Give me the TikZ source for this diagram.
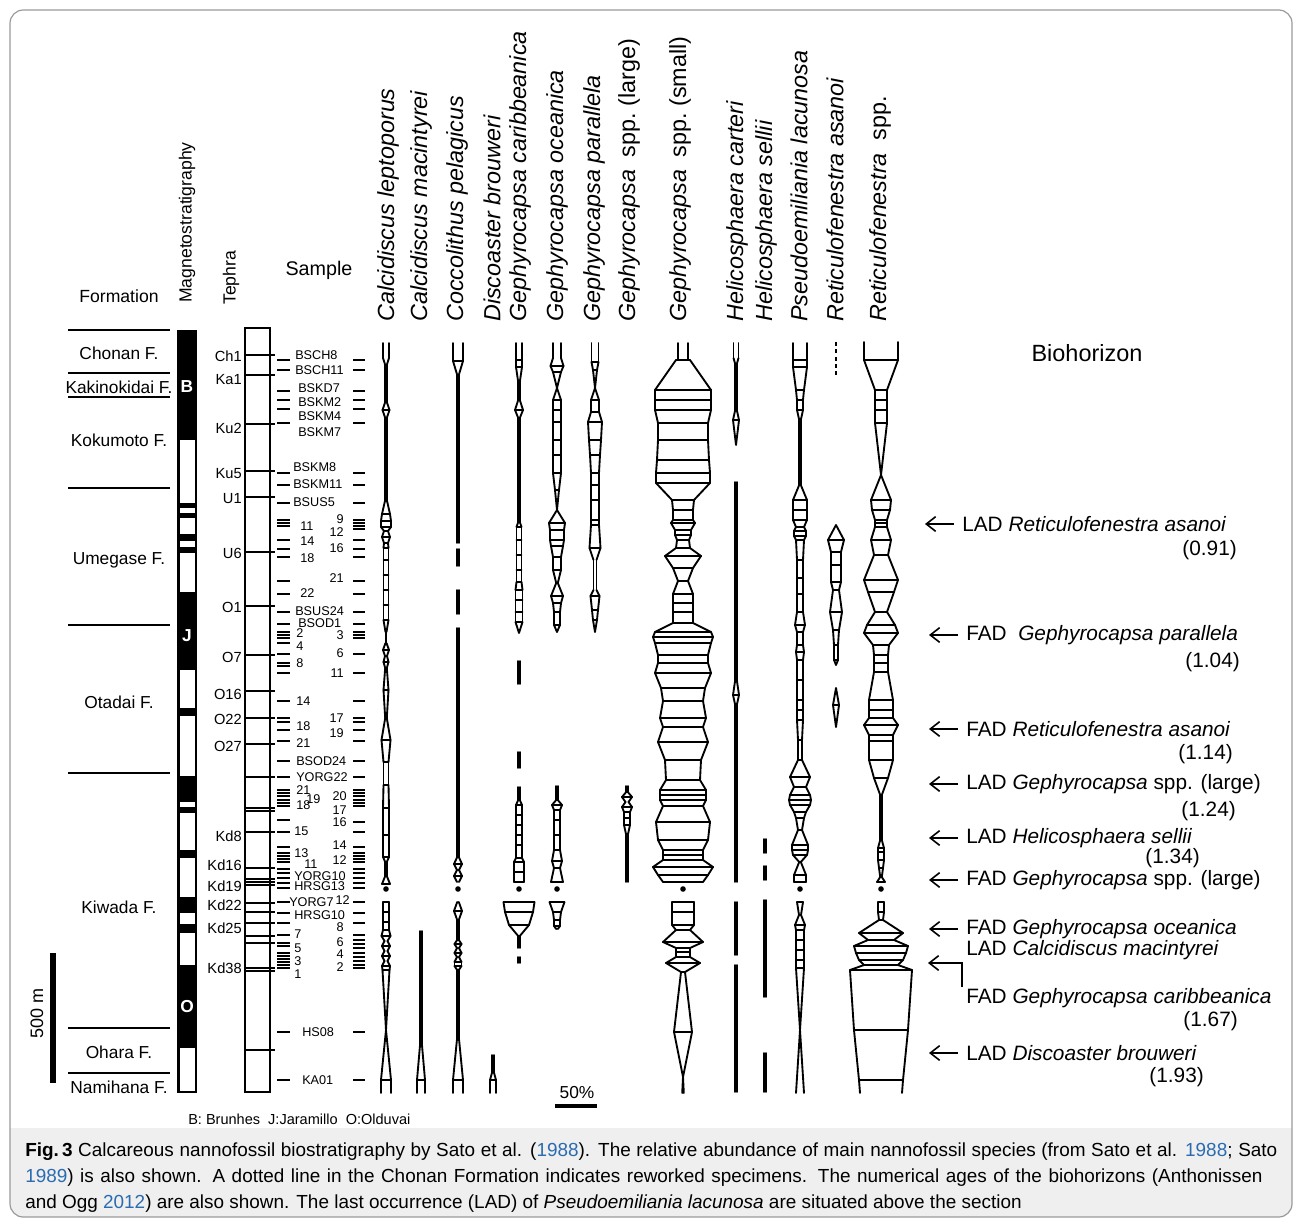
\documentclass[tikz,border=0pt]{standalone}
\usepackage{fontspec}
\setmainfont{Liberation Sans}
\usetikzlibrary{arrows.meta}
\definecolor{linkblue}{HTML}{2B6CB0}
\definecolor{capbg}{HTML}{EFEFEF}
\definecolor{framegray}{HTML}{9A9A9A}
\newcommand\fsz[1]{\fontsize{#1}{#1}\selectfont}
\newcommand\lnk[1]{\textcolor{linkblue}{#1}}
% abundance outline: #1 = column x, #2 = list y/halfwidth (negative = no rung)
\newcommand\ab[2]{%
  \foreach \yy/\ww [remember=\yy as \py (initially 0), remember=\ww as \pw (initially 0)] in {#2}{%
    \pgfmathsetmacro\aw{abs(\ww)}%
    \pgfmathsetmacro\pa{abs(\pw)}%
    \ifdim\py pt>0pt \draw (#1-\pa,\py)--(#1-\aw,\yy) (#1+\pa,\py)--(#1+\aw,\yy);\fi
    \ifdim\ww pt>1.5pt \draw (#1-\aw,\yy)--(#1+\aw,\yy);\fi
  }}
\newcommand\op[4]{\draw (#1-#2,#3)--(#1-#2,#4) (#1+#2,#3)--(#1+#2,#4);}
\begin{document}
\begin{tikzpicture}[x=0.75pt,y=-0.75pt,
  hdr/.style={rotate=90,anchor=west,inner sep=0,font=\fsz{17.5}},
  fm/.style={inner sep=0,font=\fsz{13}},
  teph/.style={inner sep=0,anchor=east,font=\fsz{11}},
  smp/.style={inner sep=0,font=\fsz{9.5}},
  bio/.style={inner sep=0,anchor=west,font=\fsz{15.6}},
  age/.style={inner sep=0,anchor=east,font=\fsz{15.6}},
  arr/.style={line width=1.2pt,-{Straight Barb[length=7pt,width=11pt,line width=1.2pt]}},
  thick2/.style={line width=1.5pt}]
\useasboundingbox (0,0) rectangle (1295,1219);
% frame and caption background
\begin{scope}
\clip[rounded corners=10] (10,10) rectangle (1292,1217);
\fill[capbg] (10,1128) rectangle (1292,1217);
\end{scope}
\draw[framegray,line width=0.9pt,rounded corners=10] (10,10) rectangle (1292,1217);

% ---------- headers ----------
\node[fm,font=\fsz{13.2}] (hform) at (119,296) {Formation};
\node[hdr,font=\fsz{13.2}] (hmag) at (187,303) {Magnetostratigraphy};
\node[hdr,font=\fsz{13.2}] (hteph) at (231,305) {Tephra};
\node[fm,font=\fsz{14.8}] (hsample) at (319,270) {Sample};
\foreach \x/\t [count=\i] in {388/{\textit{Calcidiscus leptoporus}},421/{\textit{Calcidiscus macintyrei}},457/{\textit{Coccolithus pelagicus}},492/{\textit{Discoaster brouweri}},520/{\textit{Gephyrocapsa caribbeanica}},557/{\textit{Gephyrocapsa oceanica}},594/{\textit{Gephyrocapsa parallela}},629/{\textit{Gephyrocapsa}\ \ spp.\ (large)},680/{\textit{Gephyrocapsa}\ \ spp.\ (small)},737/{\textit{Helicosphaera carteri}},766/{\textit{Helicosphaera sellii}},799/{\textit{Pseudoemiliania lacunosa}},835/{\textit{Reticulofenestra asanoi}},880/{\textit{Reticulofenestra}\ \ spp.}}
  \node[hdr] (sp\i) at (\x,322) {\t};

% ---------- formations ----------
\foreach \y in {330,373,397,488,625,773,1028,1073} \draw[thick2] (68,\y)--(170,\y);
\foreach \y/\t [count=\i] in {353/Chonan F.,387/Kakinokidai F.,440/Kokumoto F.,560/Umegase F.,702/Otadai F.,907/Kiwada F.,1052/Ohara F.,1087/Namihana F.}
  \node[fm] (f\i) at (119,\y) {\t};

% ---------- magnetostratigraphy ----------
\fill (177,330) rectangle (197,1093);
\foreach \a/\b in {440/503,508/513,518/534,541/547,553/592,670/708,716/776,802/807,813/850,858/897,913/924,933/965,1048/1091}
  \fill[white] (179.5,\a) rectangle (194.5,\b);
\node[text=white,font=\fsz{13}\bfseries,inner sep=0] (mB) at (187,387) {B};
\node[text=white,font=\fsz{13}\bfseries,inner sep=0] (mJ) at (187,636) {J};
\node[text=white,font=\fsz{13}\bfseries,inner sep=0] (mO) at (187,1007) {O};

% ---------- tephra ----------
\draw[thick2] (245,328) rectangle (270,1092);
\foreach \y in {355,375,424,471,497,552,606,655,691,718,744,777,808,810.5,832,868,879,882,885,903,912,923,936,943,968,970.5,1050}
  \draw[thick2] (245,\y)--(275,\y);
\foreach \y/\t [count=\i] in {356/Ch1,380/Ka1,428/Ku2,474/Ku5,499/U1,553/U6,607/O1,657/O7,694/O16,719/O22,746/O27,836/Kd8,865/Kd16,886/Kd19,905/Kd22,928/Kd25,968/Kd38}
  \node[teph] (t\i) at (242,\y) {\t};

% ---------- samples ----------
\foreach \y in {360,370,391,400,409,423,473,485,503,520,523,526,540,549,557,581,594,612,624,632,635,638,643,654,663,666,673,701,718,722,730,741,761,777,790,793,796,800,803,806,820,832,847,853,856,859,862,869,873,878,883,888,902,913,923,935,943,946,953,956,959,962,965,968,1032,1080}
  \draw[line width=1.3pt] (277,\y)--(290,\y);
\foreach \y in {360,370,391,400,409,423,473,485,503,520,523,526,529,540,549,557,581,594,612,624,632,635,638,654,673,701,718,722,730,741,761,777,790,793,796,800,803,806,822,832,847,853,856,859,862,869,873,878,883,888,902,913,923,935,940,944,948,953,957,961,965,968,1032,1080}
  \draw[line width=1.3pt] (353,\y)--(365,\y);
\foreach \x/\y/\t [count=\i] in {295/355/BSCH8,295/370/BSCH11,298/388/BSKD7,298/402/BSKM2,298/416/BSKM4,298/432/BSKM7,293/467/BSKM8,293/484/BSKM11,293/502/BSUS5,300/526/11,300/541/14,300/558/18,300/593/22,295/611/BSUS24,298/623/BSOD1,296/633/2,296/646/4,296/663/8,296/701/14,296/726/18,296/743/21,296/761/BSOD24,296/777/YORG22,296/790/21,296/805/18,306/799/19,294/831/15,294/853/13,304/864/11,294/876/YORG10,294/886/HRSG13,289/902/YORG7,294/915/HRSG10,294/934/7,294/948/5,294/961/3,294/974/1,302/1032/HS08,302/1080/KA01}
  \node[smp,anchor=west] (sl\i) at (\x,\y) {\t};
\foreach \x/\y/\t [count=\i] in {344/519/9,344/532/12,344/548/16,344/578/21,344/635/3,344/653/6,344/673/11,344/718/17,344/733/19,347/796/20,347/810/17,347/822/16,347/845/14,347/860/12,350/900/12,344/927/8,344/942/6,344/954/4,344/967/2}
  \node[smp,anchor=east] (sr\i) at (\x,\y) {\t};

% ---------- abundance columns ----------
\begin{scope}[line width=1.4pt,line cap=round]
% Calcidiscus leptoporus
\op{386}{3}{343}{358}
\ab{386}{358/-3,365/0.8,402/0.8,410/3.5,418/0.8,500/0.8,514/4,521/5,527/5,531/2,537/4,543/2,548/2.5,560/2.5,575/2.5,590/2.5,605/2.5,620/2.5,632/0.5,643/0.5,650/3,656/1,662/2.5,668/0.8,690/2.5,718/0.8,740/4.5,762/2.5,785/2.5,808/3,835/3,857/3,862/0.8,876/0.8,884/4}
\ab{386}{902/3,912/3,922/3,930/3,936/4.5,941/1.5,946/4,951/1.5,956/4,961/1.5,966/4,970/3.5,1030/0,1080/5,1093/-5}
% Calcidiscus macintyrei
\ab{421}{931/0.8,1043/0.8,1080/4,1093/-4}
% Coccolithus pelagicus
\op{458}{5}{343}{361}
\ab{458}{361/5,375/0.8,543/0.8}
\ab{458}{549/0.8,566/0.8}
\ab{458}{590/0.8,614/0.8}
\ab{458}{628/0.8,857/0.8,864/4,870/1,876/4,882/1}
\ab{458}{902/0.8,911/4,920/0.8,940/0.8,944/3.5,948/1,953/3.5,957/1,962/3.5,966/3.5,970/0.8,1037/0.8,1080/5,1093/-5}
% Discoaster brouweri
\ab{493}{1055/0.8,1072/0.8,1080/3,1093/-3}
% Gephyrocapsa caribbeanica
\op{519}{3}{343}{360}
\ab{519}{360/3,367/3,382/0.8,400/0.8,410/4,418/0.8,522/0.8,527/2.5,540/2.5,555/2.5,570/2.5,582/2.5,590/3.5,600/3.5,612/3.5,622/3.5,633/0}
\ab{519}{661/0.8,684/0.8}
\ab{519}{752/0.8,768/0.8}
\ab{519}{787/0.8,800/0.8,805/3,815/3,825/3,835/3,845/3,858/3,862/5,872/5,882/5}
\ab{519}{902/15.5,912/14,925/10,936/0.8,948/0.8}
\ab{519}{957/0.8,963/0.8}
% Gephyrocapsa oceanica
\op{557}{4}{343}{358}
\ab{557}{358/-4,366/6.5,372/4,388/0,400/4,410/4,422/4,440/4,455/4,473/4,490/2,510/0,523/8,530/7,540/7,546/6,557/4,570/4,583/0.8,596/6,603/4,612/3,625/3,632/0}
\ab{557}{786/0.8,800/0.8,805/5,810/3,820/3,835/3,850/3,861/5,868/3,882/6}
\ab{557}{902/7.5,912/4,920/3,926/3,929/0.8}
% Gephyrocapsa parallela
\op{595}{3.5}{343}{362}
\ab{595}{362/3.5,370/2,388/0,400/4,412/4,422/7,440/6,455/5,473/4,485/4,500/4,520/4,525/4,548/5.5,560/1.5,590/1.5,596/4.5,610/3,620/2,632/0}
% Gephyrocapsa spp. (large)
\ab{627}{786/0.8,792/0.8,797/5,802/1.5,807/5,812/3,818/3,825/3,835/0.8,882/0.8}
% Gephyrocapsa spp. (small)
\op{683}{5}{343}{360}
\ab{683}{360/7,390/28,400/28,410/28,423/25,440/25,460/26,473/27,483/27,500/11,510/10,520/10,523/12,530/8,535/8,540/6,548/7,556/18,568/10,581/5,594/10,603/10,612/10,623/10,632/28,637/30,643/28,655/25,663/25,673/28,688/22,701/20,718/23,727/20,742/25,760/18,780/17,790/23,795/23,800/23,806/20,822/27,840/25,850/20,855/20,860/20,867/30,875/25,882/20}
\ab{683}{902/11,912/11,925/11,930/7,942/20,948/7,952/7,957/7,963/17,972/2,1032/9,1077/0,1093/0.8}
% Helicosphaera carteri
\op{736}{2.5}{343}{358}
\ab{736}{358/-2.5,364/0.8,410/0.8,420/3,445/0}
\ab{736}{482/0.8,680/0.8,695/3,705/0.8,882/0.8}
\ab{736}{902/0.8,955/0.8}
\ab{736}{965/0.8,1092/0.8}
% Helicosphaera sellii
\ab{765}{839/0.8,853/0.8}
\ab{765}{866/0.8,880/0.8}
\ab{765}{900/0.8,997/0.8}
\ab{765}{1053/0.8,1092/0.8}
% Pseudoemiliania lacunosa
\op{800}{7}{343}{360}
\ab{800}{360/7,367/7,390/4,400/3,410/3,420/0.8,485/0.8,500/7,510/7,520/7,527/4,531/6,536/6,540/4,560/3,578/3,594/3,612/3,625/5,632/3,645/3,652/4,660/3,680/3,700/3,710/3,720/3,740/2,760/2,777/10,787/6,795/10,800/11,805/10,812/6,818/4,830/2,845/8,850/8,855/7,862/0.8,875/6,882/6}
\ab{800}{902/3,915/1,925/5,930/4,940/4,950/4,960/4,968/4,1030/0,1093/-4}
% Reticulofenestra asanoi
\draw[line cap=butt,dash pattern=on 3pt off 2.5pt] (836,342)--(836,378);
\ab{836}{525/0,540/8,552/5,565/5,582/5,590/3,612/6,630/3,645/2,660/2,665/0}
\ab{836}{688/0,705/3,727/0}
% Reticulofenestra spp.
\op{881}{17}{342}{360}
\ab{881}{360/17,390/6,400/6,410/6,423/6,475/0,500/10,510/9,520/6,523/6,527/6,540/10,555/7,580/17,592/13,612/6,625/14,633/17,645/8,655/7,663/7,672/7,700/12,710/12,718/12,725/17,735/12,741/12,760/12,778/7,795/0.8,840/0.8,848/3,852/3,860/3,868/2,877/0.8,882/4}
\ab{881}{902/3,912/3,920/2,933/22,940/13,946/27,953/25,960/22,965/17,970/31,1030/27,1080/22,1093/-21}
% dots
\foreach \x in {386,458,519,557,683,800,881} \fill (\x,889) circle (2.1pt);
\end{scope}

% ---------- scale bars ----------
\draw[line width=4.5pt] (53,953)--(53,1083);
\node[rotate=90,inner sep=0,font=\fsz{13.5}] (s500) at (37,1013) {500 m};
\draw[line width=2.4pt] (555,1106)--(597,1106);
\node[inner sep=0,font=\fsz{13}] (s50) at (577,1093) {50\%};
\node[inner sep=0,anchor=west,font=\fsz{10.9}] (legend) at (188,1119) {B: Brunhes\ \ J:Jaramillo\ \ O:Olduvai};

% ---------- biohorizons ----------
\node[inner sep=0,font=\fsz{17.6}] (bioh) at (1087,353) {Biohorizon};
\node[bio] (b1) at (962,524) {LAD \textit{Reticulofenestra asanoi}};
\node[age] (a1) at (1237,550) {(0.91)};
\node[bio] (b2) at (966,635) {FAD\ \ \textit{Gephyrocapsa parallela}};
\node[age] (a2) at (1240,662) {(1.04)};
\node[bio] (b3) at (966,729) {FAD \textit{Reticulofenestra asanoi}};
\node[age] (a3) at (1233,754) {(1.14)};
\node[bio] (b4) at (966,784) {LAD \textit{Gephyrocapsa} spp. (large)};
\node[age] (a4) at (1236,811) {(1.24)};
\node[bio] (b5) at (966,838) {LAD \textit{Helicosphaera sellii}};
\node[age] (a5) at (1200,858) {(1.34)};
\node[bio] (b6) at (966,880) {FAD \textit{Gephyrocapsa} spp. (large)};
\node[bio] (b7) at (966,929) {FAD \textit{Gephyrocapsa oceanica}};
\node[bio] (b8) at (966,950) {LAD \textit{Calcidiscus macintyrei}};
\node[bio] (b9) at (966,998) {FAD \textit{Gephyrocapsa caribbeanica}};
\node[age] (a9) at (1238,1021) {(1.67)};
\node[bio] (b10) at (966,1053) {LAD \textit{Discoaster brouweri}};
\node[age] (a10) at (1204,1077) {(1.93)};
\foreach \n in {b1,b2,b3,b4,b5,b6,b7,b10}
  \draw[arr] ([xshift=-6]\n.west) -- ++(-29,0);
\coordinate (brk) at (962,987);
\draw[arr] (brk) -- (962,963) -- (928,963);

% ---------- caption ----------
\node[inner sep=0,anchor=base west,font=\fsz{14.2}] (cap1) at (25,1156)
  {\makebox[939pt][s]{\mbox{\textbf{Fig.\,3}} Calcareous nannofossil biostratigraphy by Sato et al. (\lnk{1988}). The relative abundance of main nannofossil species (from Sato et al. \lnk{1988}; Sato}};
\node[inner sep=0,anchor=base west,font=\fsz{14.2}] (cap2) at (25,1182)
  {\makebox[928pt][s]{\lnk{1989}) is also shown. A dotted line in the Chonan Formation indicates reworked specimens. The numerical ages of the biohorizons (Anthonissen}};
\node[inner sep=0,anchor=base west,font=\fsz{14.2}] (cap3) at (25,1208)
  {and Ogg \lnk{2012}) are also shown. The last occurrence (LAD) of \textit{Pseudoemiliania lacunosa} are situated above the section};
\end{tikzpicture}
\end{document}
